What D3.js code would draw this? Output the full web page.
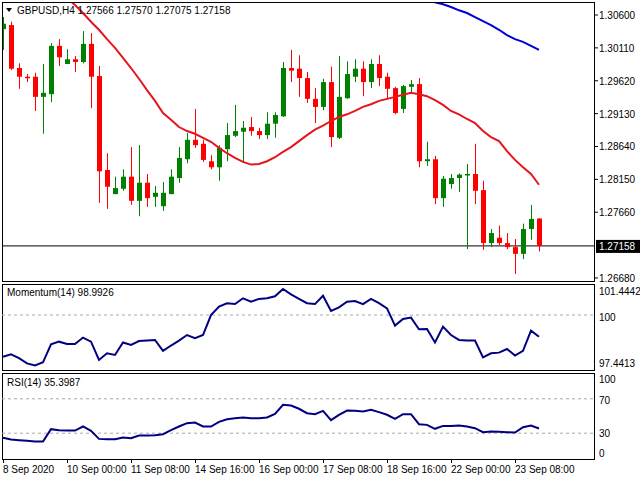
<!DOCTYPE html>
<html><head><meta charset="utf-8">
<script src="https://d3js.org/d3.v7.min.js"></script>
<style>body{margin:0;background:#fff}svg{display:block}text{font-family:"Liberation Sans",Arial,sans-serif}</style>
</head><body><svg id="c" width="640" height="480"></svg>
<script>
const opens=[1.3039,1.3045,1.2981,1.2968,1.2968,1.2938,1.2942,1.3014,1.2987,1.2994,1.2990,1.3017,1.2969,1.2829,1.2793,1.2801,1.2819,1.2783,1.2810,1.2789,1.2775,1.2793,1.2817,1.2845,1.2874,1.2868,1.2842,1.2833,1.2860,1.2880,1.2886,1.2893,1.2887,1.2881,1.2898,1.2909,1.2981,1.2980,1.2966,1.2935,1.2923,1.2960,1.2877,1.2936,1.2968,1.2980,1.2960,1.2987,1.2968,1.2951,1.2920,1.2953,1.2957,1.2842,1.2845,1.2787,1.2808,1.2817,1.2822,1.2823,1.2799,1.2720,1.2728,1.2720,1.2714,1.2704,1.2741,1.27566];
const highs=[1.3057,1.3050,1.2988,1.2972,1.2974,1.2987,1.3018,1.3024,1.3009,1.2999,1.3036,1.3033,1.2984,1.2854,1.2819,1.2830,1.2863,1.2866,1.2823,1.2805,1.2811,1.2830,1.2863,1.2884,1.2920,1.2874,1.2851,1.2866,1.2899,1.2926,1.2902,1.2908,1.2892,1.2915,1.2915,1.2990,1.3008,1.3000,1.2975,1.2951,1.2965,1.2983,1.2999,1.2991,1.2994,1.2991,1.2994,1.3000,1.2974,1.2953,1.2956,1.2963,1.2966,1.2871,1.2850,1.2820,1.2823,1.2824,1.2838,1.2868,1.2813,1.2741,1.2746,1.2735,1.2726,1.2749,1.2777,1.27570];
const lows=[1.3008,1.2978,1.2950,1.2960,1.2917,1.2883,1.2930,1.2984,1.2987,1.2975,1.2988,1.2921,1.2780,1.2771,1.2793,1.2798,1.2777,1.2760,1.2774,1.2774,1.2768,1.2793,1.2810,1.2839,1.2862,1.2841,1.2830,1.2813,1.2842,1.2878,1.2841,1.2880,1.2875,1.2875,1.2877,1.2908,1.2960,1.2938,1.2929,1.2899,1.2918,1.2863,1.2875,1.2935,1.2960,1.2939,1.2951,1.2954,1.2935,1.2912,1.2914,1.2945,1.2833,1.2835,1.2778,1.2774,1.2801,1.2796,1.2711,1.2778,1.2710,1.2714,1.2717,1.2711,1.2674,1.2696,1.2725,1.27075];
const closes=[1.3047,1.2980,1.2968,1.2966,1.2938,1.2944,1.3014,1.2997,1.2994,1.2990,1.3017,1.2968,1.2827,1.2804,1.2802,1.2819,1.2783,1.2810,1.2787,1.2795,1.2795,1.2819,1.2847,1.2874,1.2866,1.2844,1.2833,1.2862,1.2881,1.2887,1.2892,1.2887,1.2881,1.2898,1.2911,1.2981,1.2977,1.2966,1.2935,1.2923,1.2960,1.2878,1.2938,1.2972,1.2980,1.2960,1.2987,1.2966,1.2950,1.2914,1.2954,1.2957,1.2842,1.2845,1.2787,1.2816,1.2817,1.2822,1.2823,1.2798,1.2720,1.2735,1.2720,1.2714,1.2704,1.2741,1.2756,1.27158];
const maRed=[null,null,null,null,null,null,null,null,1.3085,1.3075,1.3063,1.3050,1.3038,1.3024,1.3011,1.2996,1.2981,1.2965,1.2948,1.2932,1.2914,1.2904,1.2893,1.2887,1.2883,1.2877,1.2871,1.2862,1.2854,1.2847,1.2841,1.2837,1.2838,1.2842,1.2848,1.2856,1.2863,1.2872,1.2881,1.2889,1.2895,1.2902,1.2908,1.2912,1.2917,1.2923,1.2927,1.2932,1.2935,1.2938,1.2941,1.2944,1.2942,1.2939,1.2933,1.2926,1.2917,1.2912,1.2905,1.2899,1.2887,1.2878,1.2872,1.2857,1.2844,1.2833,1.2823,1.2807];
const maBlue=[1.3081,1.3079,1.3076,1.3072,1.3067,1.3063,1.3057,1.3051,1.3045,1.3038,1.3030,1.3024,1.3020,1.3014,1.3008]; // candles 53..67
const momentum=[98.06,98.17,97.99,97.75,97.65,97.80,98.64,98.76,98.65,98.65,98.95,98.76,97.91,98.22,98.14,98.72,98.61,98.79,98.82,98.84,98.33,98.58,98.81,99.07,98.92,99.07,100.00,100.39,100.55,100.51,100.78,100.62,100.75,100.78,100.87,101.21,100.96,100.75,100.55,100.51,100.90,100.19,100.36,100.62,100.65,100.51,100.75,100.55,100.31,99.51,99.82,99.88,99.34,99.35,98.72,99.46,99.07,98.84,98.81,98.81,98.03,98.22,98.25,98.42,98.11,98.33,99.27,98.99];
const rsi=[24.6,22.6,21.8,21.1,20.3,20.3,34.7,33.5,33.1,33.1,37.8,32.7,23.4,23.0,23.0,24.9,24.2,27.3,27.3,27.7,28.8,33.5,37.8,41.7,42.4,37.8,37.8,43.2,46.3,47.5,48.3,47.5,47.5,48.3,52.5,63.0,62.2,58.4,53.3,52.1,56.0,45.2,51.4,56.4,56.0,55.3,57.2,54.5,51.4,46.7,52.1,52.1,40.5,39.7,35.1,38.5,38.5,38.9,37.8,35.8,31.2,31.9,31.6,31.2,30.8,37.0,38.9,35.4];
const priceTicks=[1.30600,1.30110,1.29620,1.29130,1.28640,1.28150,1.27660,1.26680];
const timeLabels=["8 Sep 2020","10 Sep 00:00","11 Sep 08:00","14 Sep 16:00","16 Sep 00:00","17 Sep 08:00","18 Sep 16:00","22 Sep 00:00","23 Sep 08:00"];
const lastPrice=1.27158;

const svg=d3.select("#c");
const L=2,R=594;
const x=d3.scaleLinear().domain([0,67]).range([3,539]);
const yP=d3.scaleLinear().domain([1.26635,1.30794]).range([281,2]);
const yM=d3.scaleLinear().domain([97.4413,101.4442]).range([370,284]);
const yR=d3.scaleLinear().domain([0,100]).range([459,373]);

svg.append("defs").append("clipPath").attr("id","cp").append("rect").attr("x",L).attr("y",2).attr("width",R-L).attr("height",279);
const g=svg.append("g").attr("clip-path","url(#cp)");
const idx=d3.range(opens.length);
g.append("line").attr("x1",L).attr("x2",R).attr("y1",yP(lastPrice)).attr("y2",yP(lastPrice)).attr("stroke","#000");
idx.forEach(i=>{
  const up=closes[i]>=opens[i], col=up?"#008000":"#ff0000";
  g.append("line").attr("x1",x(i)+0.5).attr("x2",x(i)+0.5).attr("y1",yP(highs[i])).attr("y2",yP(lows[i])).attr("stroke",col);
  const t=yP(Math.max(opens[i],closes[i])), b=yP(Math.min(opens[i],closes[i]));
  g.append("rect").attr("x",x(i)-2).attr("width",5).attr("y",t).attr("height",Math.max(1.5,b-t)).attr("fill",col);
});
g.append("path").datum(maRed.map((v,i)=>[i,v])).attr("fill","none").attr("stroke","#e8141c").attr("stroke-width",2)
 .attr("d",d3.line().defined(d=>d[1]!=null).x(d=>x(d[0])).y(d=>yP(d[1])));
g.append("path").datum(maBlue.map((v,i)=>[i+53,v])).attr("fill","none").attr("stroke","#0000dd").attr("stroke-width",2)
 .attr("d",d3.line().x(d=>x(d[0])).y(d=>yP(d[1])));

[[2,281],[284,370],[373,459]].forEach(([a,b])=>{
  svg.append("rect").attr("x",L+0.5).attr("y",a+0.5).attr("width",R-L).attr("height",b-a).attr("fill","none").attr("stroke","#000");
});
priceTicks.forEach(p=>{
  svg.append("line").attr("x1",R).attr("x2",R+4).attr("y1",yP(p)).attr("y2",yP(p)).attr("stroke","#000");
  svg.append("text").attr("x",599).attr("y",yP(p)+4).attr("font-size",10).text(p.toFixed(5));
});
svg.append("rect").attr("x",596).attr("y",yP(lastPrice)-6).attr("width",44).attr("height",13).attr("fill","#000");
svg.append("text").attr("x",599).attr("y",yP(lastPrice)+4).attr("font-size",10).attr("fill","#fff").text(lastPrice.toFixed(5));

svg.append("line").attr("x1",L).attr("x2",R).attr("y1",yM(100)).attr("y2",yM(100)).attr("stroke","#aaa").attr("stroke-dasharray","3,3");
svg.append("path").datum(momentum).attr("fill","none").attr("stroke","#000080").attr("stroke-width",2)
 .attr("d",d3.line().x((d,i)=>x(i)).y(d=>yM(d)));
[[101.4442,291],[100,317],[97.4413,363]].forEach(([v,yy])=>{
  svg.append("text").attr("x",599).attr("y",yy+4).attr("font-size",10).text(v===100?"100":v.toFixed(4));
});
svg.append("text").attr("x",7).attr("y",296).attr("font-size",10).text("Momentum(14) 98.9926");
[70,30].forEach(v=>svg.append("line").attr("x1",L).attr("x2",R).attr("y1",yR(v)).attr("y2",yR(v)).attr("stroke","#aaa").attr("stroke-dasharray","3,3"));
svg.append("path").datum(rsi).attr("fill","none").attr("stroke","#000080").attr("stroke-width",2)
 .attr("d",d3.line().x((d,i)=>x(i)).y(d=>yR(d)));
[[100,379],[70,400],[30,433],[0,453]].forEach(([v,yy])=>{
  svg.append("text").attr("x",599).attr("y",yy+4).attr("font-size",10).text(v);
});
svg.append("text").attr("x",7).attr("y",386).attr("font-size",10).text("RSI(14) 35.3987");
timeLabels.forEach((t,k)=>{
  const xx=x(k*8);
  svg.append("line").attr("x1",xx+0.5).attr("x2",xx+0.5).attr("y1",459).attr("y2",463).attr("stroke","#000");
  svg.append("text").attr("x",xx).attr("y",473).attr("font-size",10).text(t);
});
svg.append("path").attr("d","M6,8 L12,8 L9,12 Z").attr("fill","#000");
svg.append("text").attr("x",17).attr("y",14).attr("font-size",10).text("GBPUSD,H4  1.27566 1.27570 1.27075 1.27158");
</script></body></html>
